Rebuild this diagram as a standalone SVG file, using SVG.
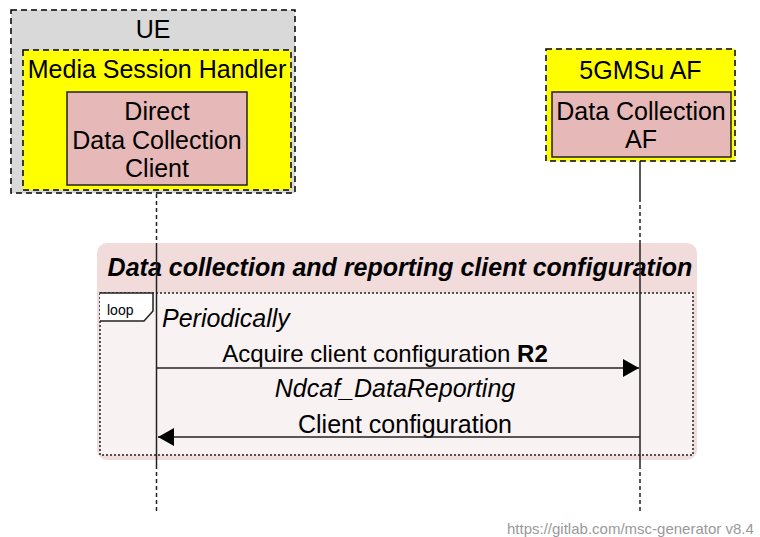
<svg xmlns="http://www.w3.org/2000/svg" width="760" height="537" viewBox="0 0 760 537">
<defs>
<style>
text{font-family:"Liberation Sans",Arial,sans-serif;font-size:25px;fill:#000}
.c{text-anchor:middle}
.dash{stroke:#000;stroke-width:1.5;stroke-dasharray:6,4}
.ll{stroke:#222;stroke-width:1.5;fill:none}
.lld{stroke:#222;stroke-width:1.5;stroke-dasharray:4,3;fill:none}
.pink{fill:#e6b8b7;stroke:#222;stroke-width:1.5}
.msg{stroke:#222;stroke-width:1.5;fill:none}
</style>
<marker id="ah" viewBox="0 0 16 18" refX="16" refY="9" markerWidth="16" markerHeight="18" markerUnits="userSpaceOnUse" orient="auto">
<path d="M0,0 L16,9 L0,18 Z" fill="#000"/>
</marker>
</defs>
<rect width="760" height="537" fill="#fff"/>

<g id="connectors">
<line class="lld" x1="156.5" y1="194" x2="156.5" y2="243"/>
<line class="ll" x1="640" y1="161" x2="640" y2="198"/>
<line class="lld" x1="640" y1="198" x2="640" y2="243"/>
</g>

<g id="ue">
<rect x="11" y="10" width="284" height="183" fill="#d9d9d9" class="dash"/>
<text class="c" x="153" y="38">UE</text>
<g id="msh">
<rect x="23" y="50" width="268" height="140" fill="#ffff00" class="dash"/>
<text class="c" x="157" y="78">Media Session Handler</text>
<g id="ddcc">
<rect class="pink" x="67" y="92" width="180" height="93"/>
<text class="c" x="157" y="120">Direct</text>
<text class="c" x="157" y="149">Data Collection</text>
<text class="c" x="157" y="177">Client</text>
</g>
</g>
</g>

<g id="af5g">
<rect x="546" y="49" width="189" height="112" fill="#ffff00" class="dash"/>
<text class="c" x="640.5" y="79">5GMSu AF</text>
<g id="dcaf">
<rect class="pink" x="552" y="92" width="179" height="65"/>
<text class="c" x="641" y="120">Data Collection</text>
<text class="c" x="641" y="148">AF</text>
</g>
</g>

<g id="group">
<rect x="97" y="243" width="600" height="217" rx="10" ry="10" fill="#f2dcdb"/>
<text class="c" x="400" y="276" font-weight="bold" font-style="italic">Data collection and reporting client configuration</text>
<rect x="100" y="293" width="593" height="162" fill="#f9f2f2" stroke="#222" stroke-width="1.5" stroke-dasharray="2,2"/>
<path d="M100,293 H153 V311 L144,321 H100" fill="#fff" stroke="#222" stroke-width="1.5"/>
<text x="107" y="315" style="font-size:14px">loop</text>
<text x="162" y="327" font-style="italic">Periodically</text>
</g>

<g id="messages">
<line class="ll" x1="156.5" y1="243" x2="156.5" y2="465"/>
<line class="ll" x1="640" y1="243" x2="640" y2="465"/>
<line class="lld" x1="156.5" y1="465" x2="156.5" y2="512"/>
<line class="lld" x1="640" y1="465" x2="640" y2="512"/>
<text class="c" x="385" y="362" style="font-size:24px">Acquire client configuration <tspan font-weight="bold">R2</tspan></text>
<line class="msg" x1="157" y1="368" x2="639" y2="368" marker-end="url(#ah)"/>
<text class="c" x="395" y="397" font-style="italic">Ndcaf_DataReporting</text>
<text class="c" x="405" y="433">Client configuration</text>
<line class="msg" x1="640" y1="437" x2="158" y2="437" marker-end="url(#ah)"/>
</g>

<text x="507" y="534" style="font-size:15px;fill:#999">https://gitlab.com/msc-generator v8.4</text>
</svg>
